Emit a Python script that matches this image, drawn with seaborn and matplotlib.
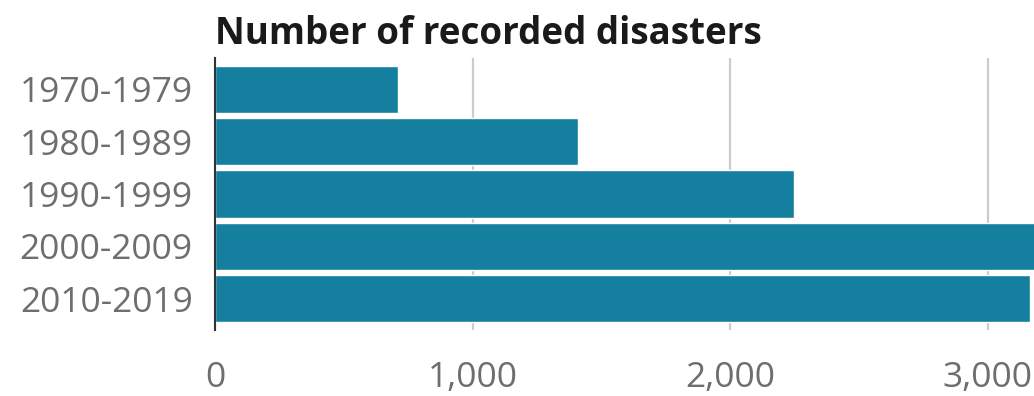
import matplotlib
matplotlib.use("Agg")
import matplotlib.pyplot as plt
import seaborn as sns
import pandas as pd
from matplotlib.ticker import FuncFormatter

decades = ["1970-1979", "1980-1989", "1990-1999", "2000-2009", "2010-2019"]
disasters = [711, 1410, 2250, 3536, 3165]
x_ticks = [0, 1000, 2000, 3000]

sns.set_theme(style="white")
plt.rcParams["font.family"] = ["Open Sans", "DejaVu Sans"]

df = pd.DataFrame({"decade": decades, "count": disasters})

fig = plt.figure(figsize=(10.34, 3.96), dpi=100)
ax = fig.add_axes([215 / 1034, 1 - 330 / 396, 1 - 215 / 1034, (330 - 58) / 396])

sns.barplot(data=df, x="count", y="decade", orient="h", color="#147f9f",
            saturation=1, width=0.9, ax=ax, zorder=3)

ax.set_xlim(0, 3180)
ax.set_ylim(4.6, -0.6)
ax.set_xticks(x_ticks)
ax.xaxis.set_major_formatter(FuncFormatter(lambda v, p: f"{int(v):,}"))
ax.grid(axis="x", color="#cccccc", linewidth=1.6, zorder=0)
ax.grid(axis="y", visible=False)
ax.set_axisbelow(True)

for side in ["top", "right", "bottom"]:
    ax.spines[side].set_visible(False)
ax.spines["left"].set_color("#333333")
ax.spines["left"].set_linewidth(1.5)
ax.spines["left"].set_zorder(4)

ax.tick_params(axis="y", length=0, pad=16, labelsize=25.5, labelcolor="#6e6e6e")
ax.tick_params(axis="x", length=0, pad=22, labelsize=25.5, labelcolor="#6e6e6e")
ax.set_xlabel("")
ax.set_ylabel("")

fig.text(215 / 1034, 1 - 44 / 396, "Number of recorded disasters",
         fontsize=26.5, fontweight="bold", color="#1a1a1a", ha="left", va="baseline")

fig.savefig("out.png", dpi=100, facecolor="white")
